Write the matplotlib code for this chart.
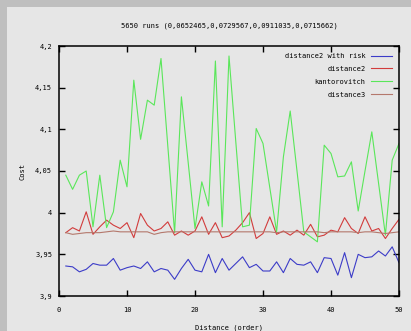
"""gnuplot-style cost chart"""
import matplotlib
matplotlib.use("Agg")
import matplotlib.pyplot as plt
from matplotlib.patches import Rectangle
from matplotlib.ticker import FuncFormatter

# order index of each run
order = list(range(1, 51))

risk = [3.936, 3.935, 3.929, 3.932, 3.939, 3.937, 3.937, 3.945, 3.931, 3.934,
        3.936, 3.933, 3.941, 3.929, 3.933, 3.931, 3.920, 3.933, 3.944, 3.931,
        3.929, 3.950, 3.928, 3.945, 3.931, 3.939, 3.947, 3.934, 3.938, 3.930,
        3.930, 3.941, 3.928, 3.945, 3.938, 3.937, 3.941, 3.928, 3.946, 3.945,
        3.925, 3.952, 3.922, 3.950, 3.946, 3.947, 3.954, 3.948, 3.959, 3.940]

dist2 = [3.976, 3.982, 3.978, 4.001, 3.974, 3.983, 3.991, 3.985, 3.981, 3.988,
         3.970, 3.999, 3.985, 3.978, 3.981, 3.989, 3.973, 3.978, 3.973, 3.978,
         3.995, 3.974, 3.988, 3.970, 3.972, 3.979, 3.988, 4.000, 3.969, 3.975,
         3.995, 3.974, 3.978, 3.973, 3.979, 3.973, 3.986, 3.971, 3.973, 3.979,
         3.977, 3.994, 3.981, 3.975, 3.995, 3.978, 3.981, 3.969, 3.981, 3.992]

kanto = [4.045, 4.028, 4.045, 4.050, 3.983, 4.045, 3.982, 4.001, 4.063, 4.031,
         4.159, 4.088, 4.135, 4.129, 4.185, 4.080, 3.976, 4.139, 4.060, 3.981,
         4.037, 4.008, 4.182, 3.983, 4.188, 4.085, 3.983, 3.985, 4.101, 4.083,
         4.030, 3.977, 4.067, 4.122, 4.050, 3.977, 3.971, 3.965, 4.081, 4.071,
         4.043, 4.044, 4.061, 4.002, 4.050, 4.097, 4.035, 3.973, 4.063, 4.083]

dist3 = [3.976, 3.974, 3.975, 3.976, 3.976, 3.976, 3.977, 3.978, 3.977, 3.977,
         3.977, 3.977, 3.977, 3.974, 3.976, 3.977, 3.977, 3.977, 3.977, 3.977,
         3.977, 3.977, 3.977, 3.977, 3.977, 3.977, 3.977, 3.977, 3.977, 3.977,
         3.977, 3.976, 3.977, 3.977, 3.977, 3.977, 3.977, 3.977, 3.976, 3.977,
         3.977, 3.977, 3.977, 3.976, 3.977, 3.977, 3.976, 3.975, 3.976, 3.977]

title = "5650 runs (0,0652465,0,0729567,0,0911035,0,0715662)"
yticks = [3.9, 3.95, 4.0, 4.05, 4.1, 4.15, 4.2]
xticks = [0, 10, 20, 30, 40, 50]

plt.rcParams["font.family"] = "DejaVu Sans Mono"
fs = 5

fig = plt.figure(figsize=(4.11, 3.31), dpi=100)
fig.patch.set_facecolor("#bfbfbf")
fig.patches.append(Rectangle((7 / 411, 0), 1, 1 - 7 / 331, transform=fig.transFigure,
                             facecolor="#e6e6e6", edgecolor="none", zorder=-1))

ax = fig.add_axes([59 / 411, 35 / 331, 340 / 411, 250 / 331])
ax.set_facecolor("#e6e6e6")

ax.plot(order, risk, color="#3c3cc8", lw=0.8, label="distance2 with risk")
ax.plot(order, dist2, color="#d23c3c", lw=0.8, label="distance2")
ax.plot(order, kanto, color="#5ae65a", lw=0.8, label="kantorovitch")
ax.plot(order, dist3, color="#b4786c", lw=0.8, label="distance3")

ax.set_xlim(0, 50)
ax.set_ylim(3.9, 4.2)
ax.set_xticks(xticks)
ax.set_yticks(yticks)
ax.yaxis.set_major_formatter(FuncFormatter(lambda v, p: ("%g" % round(v, 2)).replace(".", ",")))
ax.tick_params(direction="in", length=4, width=1, top=True, right=True, labelsize=fs)
ax.tick_params(axis="x", pad=8)
ax.tick_params(axis="y", pad=5)
for s in ax.spines.values():
    s.set_linewidth(1.1)

ax.set_title(title, fontsize=fs, pad=13)
ax.set_xlabel("Distance (order)", fontsize=fs, labelpad=8)
ax.set_ylabel("Cost", fontsize=fs, labelpad=7)

ax.legend(loc="upper right", frameon=False, markerfirst=False, fontsize=fs,
          handlelength=3, handletextpad=0.8, labelspacing=1.0,
          borderaxespad=0.6)

fig.savefig("out.png", dpi=100, facecolor=fig.get_facecolor())
